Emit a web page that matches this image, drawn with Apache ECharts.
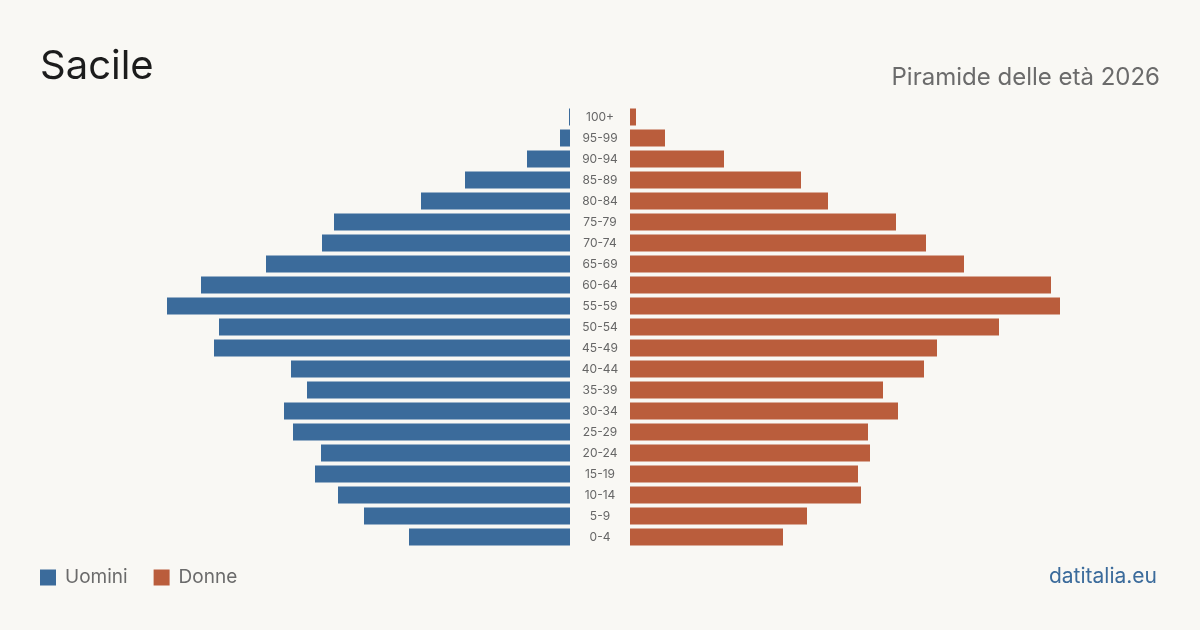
<!DOCTYPE html>
<html>
<head>
<meta charset="utf-8">
<script src="https://cdn.jsdelivr.net/npm/echarts@6/dist/echarts.min.js"></script>
<style>
  html, body { margin: 0; padding: 0; background: #f9f8f4; }
  #chart { width: 1200px; height: 630px; }
</style>
</head>
<body>
<div id="chart"></div>
<script>
const ages = ['100+', '95-99', '90-94', '85-89', '80-84', '75-79', '70-74', '65-69', '60-64', '55-59',
  '50-54', '45-49', '40-44', '35-39', '30-34', '25-29', '20-24', '15-19', '10-14', '5-9', '0-4'];
const uomini = [2, 20, 86, 210, 298, 472, 496, 608, 738, 806,
  702, 712, 558, 526, 572, 554, 498, 510, 464, 412, 322];
const donne = [12, 70, 188, 342, 396, 532, 592, 668, 842, 860,
  738, 614, 588, 506, 536, 476, 480, 456, 462, 354, 306];
const maxVal = 880;

const blue = '#3b6b9b';
const orange = '#ba5d3c';

const chart = echarts.init(document.getElementById('chart'));

chart.setOption({
  backgroundColor: '#f9f8f4',
  animation: false,
  textStyle: { fontFamily: 'Inter' },
  title: [
    {
      text: 'Sacile', left: 35, top: 42,
      textStyle: { fontSize: 40, fontWeight: 'normal', color: '#1c1c1c', fontFamily: 'Inter' },
    },
    {
      text: 'Piramide delle età 2026', right: 35, top: 61,
      textStyle: { fontSize: 24, fontWeight: 'normal', color: '#6b6b6b', fontFamily: 'Inter' },
    },
    {
      text: 'datitalia.eu', right: 38, top: 561,
      textStyle: { fontSize: 21, fontWeight: 'normal', color: '#3b6b9b', fontFamily: 'Inter' },
    },
  ],
  legend: {
    left: 35, top: 563,
    itemWidth: 16, itemHeight: 16, itemGap: 26,
    icon: 'rect',
    textStyle: { fontSize: 19, color: '#6b6b6b', fontFamily: 'Inter', padding: [0, 0, 0, 4] },
    data: ['Uomini', 'Donne'],
  },
  grid: [
    { left: 130, right: 630, top: 106.5, height: 441 },
    { left: 630, right: 130, top: 106.5, height: 441 },
  ],
  xAxis: [
    { gridIndex: 0, type: 'value', min: 0, max: maxVal, inverse: true, show: false },
    { gridIndex: 1, type: 'value', min: 0, max: maxVal, show: false },
  ],
  yAxis: [
    {
      gridIndex: 0, type: 'category', data: ages, inverse: true, position: 'right',
      axisLine: { show: false }, axisTick: { show: false }, axisLabel: { show: false },
    },
    {
      gridIndex: 1, type: 'category', data: ages, inverse: true, position: 'left',
      axisLine: { show: false }, axisTick: { show: false },
      axisLabel: { align: 'center', margin: 30, fontSize: 12, color: '#666666', fontFamily: 'Inter' },
    },
  ],
  series: [
    {
      name: 'Uomini', type: 'bar', xAxisIndex: 0, yAxisIndex: 0,
      data: uomini, barWidth: 17, itemStyle: { color: blue },
    },
    {
      name: 'Donne', type: 'bar', xAxisIndex: 1, yAxisIndex: 1,
      data: donne, barWidth: 17, itemStyle: { color: orange },
    },
  ],
});
</script>
</body>
</html>
